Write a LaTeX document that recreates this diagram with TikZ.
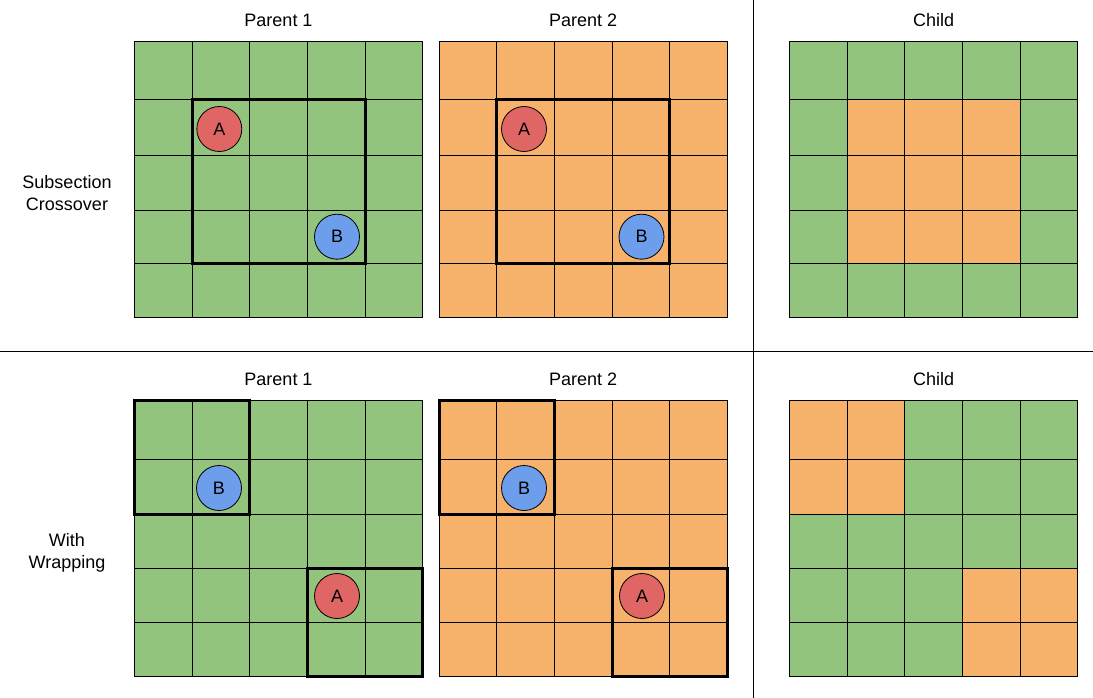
\documentclass[tikz,border=0pt]{standalone}
\usepackage{fontspec}
\setmainfont{Liberation Sans}
\definecolor{cgreen}{HTML}{93C47D}
\definecolor{corange}{HTML}{F6B26B}
\definecolor{cred}{HTML}{E06666}
\definecolor{cblue}{HTML}{6D9EEB}
\def\rowsT{41.7,100,155.7,210,263.3,317.3}
\def\rowsB{400,459.3,514.3,568.3,622.3,676}
\newcommand\mygrid[4]{% #1 x0, #2 row list, #3 top, #4 bottom
  \foreach \yy in #2 {\draw[gridline] (#1,\yy) -- ({#1+288.5},\yy);}
  \foreach \ii in {0,...,5} {\draw[gridline] ({#1+57.7*\ii},#3) -- ({#1+57.7*\ii},#4);}
}
\begin{document}
\begin{tikzpicture}[x=1pt,y=-1pt,
  gridline/.style={line width=1pt,black},
  selbox/.style={line width=3pt,black},
  divider/.style={line width=1.2pt,black},
  ball/.style={circle,draw=black,line width=0.8pt,minimum size=45pt,inner sep=0pt,font=\fontsize{18}{20}\selectfont},
  ttl/.style={anchor=base,font=\fontsize{18}{22.4}\selectfont},
  side/.style={anchor=center,align=center,font=\fontsize{18}{22.4}\selectfont}]
\useasboundingbox[fill=white] (0,0) rectangle (1093,698);
% ---------- top row ----------
\fill[cgreen] (134.3,41.7) rectangle (422.8,317.3);
\fill[corange] (439,41.7) rectangle (727.5,317.3);
\fill[cgreen] (789.4,41.7) rectangle (1077.9,317.3);
\fill[corange] (847.1,100) rectangle (1020.2,263.3);
\mygrid{134.3}{\rowsT}{41.7}{317.3}
\mygrid{439}{\rowsT}{41.7}{317.3}
\mygrid{789.4}{\rowsT}{41.7}{317.3}
\draw[selbox] (192,100) rectangle (365.1,263.3);
\draw[selbox] (496.7,100) rectangle (669.8,263.3);
\node[ball,fill=cred] (a1) at (219.3,129) {A};
\node[ball,fill=cblue] (b1) at (337,236.7) {B};
\node[ball,fill=cred] (a2) at (524,129) {A};
\node[ball,fill=cblue] (b2) at (641.5,236.7) {B};
\node[ttl] (t1) at (278.5,26.7) {Parent 1};
\node[ttl] (t2) at (583.2,26.7) {Parent 2};
\node[ttl] (t3) at (933.6,26.7) {Child};
\node[side] (s1) at (67,193) {Subsection\\Crossover};
% ---------- bottom row ----------
\fill[cgreen] (134.3,400) rectangle (422.8,676);
\fill[corange] (439,400) rectangle (727.5,676);
\fill[cgreen] (789.4,400) rectangle (1077.9,676);
\fill[corange] (789.4,400) rectangle (904.8,514.3);
\fill[corange] (962.5,568.3) rectangle (1077.9,676);
\mygrid{134.3}{\rowsB}{400}{676}
\mygrid{439}{\rowsB}{400}{676}
\mygrid{789.4}{\rowsB}{400}{676}
\draw[selbox] (134.3,400) rectangle (249.7,514.3);
\draw[selbox] (307.4,568.3) rectangle (422.8,676);
\draw[selbox] (439,400) rectangle (554.4,514.3);
\draw[selbox] (612.1,568.3) rectangle (727.5,676);
\node[ball,fill=cblue] (b3) at (219,488) {B};
\node[ball,fill=cred] (a3) at (337,596) {A};
\node[ball,fill=cblue] (b4) at (524,488) {B};
\node[ball,fill=cred] (a4) at (642,596) {A};
\node[ttl] (t4) at (278.5,385.2) {Parent 1};
\node[ttl] (t5) at (583.2,385.2) {Parent 2};
\node[ttl] (t6) at (933.6,385.2) {Child};
\node[side] (s2) at (67,553) {With\\Wrapping};
% ---------- dividers ----------
\coordinate (hl) at (0,351.3);
\coordinate (hr) at (1093,351.3);
\coordinate (vt) at (753.3,0);
\coordinate (vb) at (753.3,698);
\draw[divider] (hl) -- (hr);
\draw[divider] (vt) -- (vb);
\end{tikzpicture}
\end{document}
